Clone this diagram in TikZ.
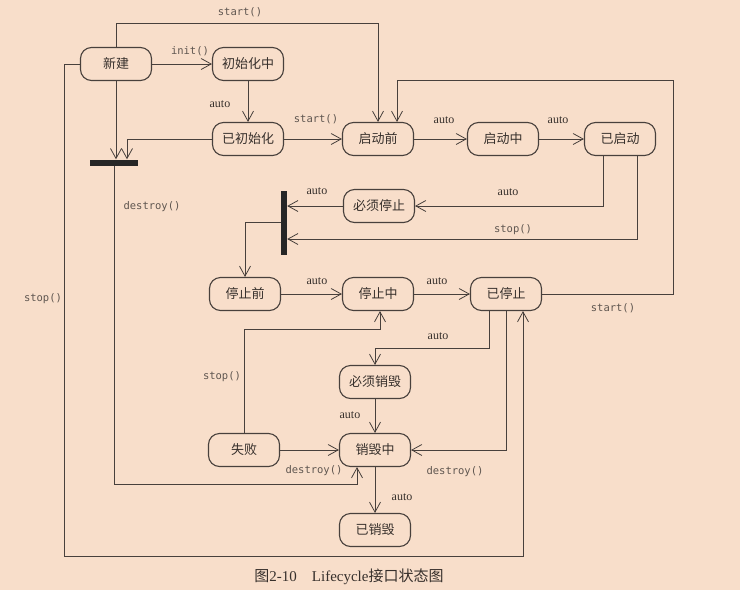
\documentclass[tikz,border=0pt]{standalone}
\usepackage{fontspec}
\setmainfont{Liberation Serif}
\setmonofont{DejaVu Sans Mono}
\newfontfamily\cjk{Noto Sans CJK SC}
\usetikzlibrary{arrows.meta}
\definecolor{bg}{RGB}{248,222,202}
\definecolor{ln}{RGB}{72,64,60}
\definecolor{tx}{RGB}{55,48,44}
\definecolor{lbl}{RGB}{95,86,80}
\begin{document}
\begin{tikzpicture}[x=1pt,y=-1pt,
  state/.style={draw=ln, line width=1.1pt, rounded corners=11pt, minimum width=71pt,
    minimum height=33pt, inner sep=0pt, font=\cjk\fontsize{13}{13}\selectfont, text=tx},
  syncbar/.style={draw=none, fill=black!85, inner sep=0pt},
  arr/.style={draw=ln, line width=0.8pt, -{Straight Barb[length=10pt,width=11pt,line width=0.8pt]}},
  ml/.style={font=\ttfamily\fontsize{10.5}{10.5}\selectfont, text=lbl, inner sep=0pt},
  al/.style={font=\fontsize{12}{12}\selectfont, text=tx, inner sep=0pt}]
\fill[bg] (0,0) rectangle (740,590);
\useasboundingbox (0,0) rectangle (740,590);
% states
\node[state] (new) at (116,64) {新建};
\node[state] (init) at (248,64) {初始化中};
\node[state] (ini) at (248,139) {已初始化};
\node[state] (pre) at (378,139) {启动前};
\node[state] (sing) at (503,139) {启动中};
\node[state] (started) at (620,139) {已启动};
\node[state] (muststop) at (379,206) {必须停止};
\node[state] (prestop) at (245,294) {停止前};
\node[state] (stopping) at (378,294) {停止中};
\node[state] (stopped) at (506,294) {已停止};
\node[state] (mustdes) at (375,382) {必须销毁};
\node[state] (fail) at (244,450) {失败};
\node[state] (desing) at (375,450) {销毁中};
\node[state] (desd) at (375,530) {已销毁};
\node[syncbar, minimum width=48pt, minimum height=6pt] (hb) at (114,162.5) {};
\node[syncbar, minimum width=6pt, minimum height=64pt] (vb) at (284,222.5) {};
% connectors
\draw[arr] (new.east) -- (init.west);
\draw[arr] (new.north) -- ++(0,-24) -| (pre.north);
\draw[arr] (new.south) -- (new.south |- hb.north);
\draw[arr] (ini.west) -| ([xshift=13pt]hb.north);
\draw[arr] (init.south) -- (ini.north);
\draw[arr] (ini.east) -- (pre.west);
\draw[arr] (pre.east) -- (sing.west);
\draw[arr] (sing.east) -- (started.west);
\draw[arr] ([xshift=-17pt]started.south) |- (muststop.east);
\draw[arr] ([xshift=17pt]started.south) |- ([yshift=-16.5pt]vb.east);
\draw[arr] (muststop.west) -- (muststop.west -| vb.east);
\draw[arr] (vb.west) -| (prestop.north);
\draw[arr] (prestop.east) -- (stopping.west);
\draw[arr] (stopping.east) -- (stopped.west);
\draw[arr] (stopped.east) -| (673,80) -| ([xshift=19pt]pre.north);
\draw[arr] ([xshift=-17pt]stopped.south) -- ++(0,37) -| (mustdes.north);
\draw[arr] (mustdes.south) -- (desing.north);
\draw[arr] (fail.east) -- (desing.west);
\draw[arr] (stopped.south) |- (desing.east);
\draw[arr] (fail.north) -- ++(0,-104) -| ([xshift=2pt]stopping.south);
\draw[arr] (new.west) -| (64,556) -| ([xshift=17pt]stopped.south);
\draw[arr] (hb.south) -- (hb.south |- 0,484) -| ([xshift=-18pt]desing.south);
\draw[arr] (desing.south) -- (desd.north);
% labels
\node[ml] at (190,51) {init()};
\node[ml] at (240,12) {start()};
\node[al] at (220,104) {auto};
\node[ml] at (316,119) {start()};
\node[al] at (444,120) {auto};
\node[al] at (558,120) {auto};
\node[al] at (508,192) {auto};
\node[ml] at (513,230) {stop()};
\node[al] at (317,191) {auto};
\node[ml] at (152,207) {destroy()};
\node[ml] at (43,299) {stop()};
\node[al] at (317,281) {auto};
\node[al] at (437,281) {auto};
\node[ml] at (613,308) {start()};
\node[al] at (438,336) {auto};
\node[ml] at (222,377) {stop()};
\node[al] at (350,415) {auto};
\node[ml] at (314,471) {destroy()};
\node[ml] at (455,472) {destroy()};
\node[al] at (402,497) {auto};
% caption
\node[inner sep=0pt, text=tx, font=\fontsize{15}{15}\selectfont] (cap) at (349,577)
  {{\cjk 图}2-10\hspace{15pt}Lifecycle{\cjk 接口状态图}};
\end{tikzpicture}
\end{document}
